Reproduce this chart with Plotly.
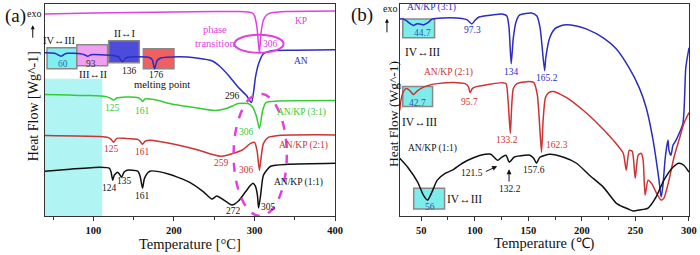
import plotly.graph_objects as go

# ---------------- Panel (a): DSC curves (temperature °C, heat flow in arbitrary offset units)
a_kp_T = [40, 100, 150, 200, 250, 280, 292, 297, 300, 303, 306, 308, 311, 315, 320, 340, 400]
a_kp_hf = [204, 205, 205.5, 206, 206.5, 206.5, 206, 205, 202, 190, 165, 185, 198, 203, 205, 206.5, 207]

a_an_T = [40, 52, 56, 60, 63, 67, 84, 89, 93, 97, 120, 131, 136, 141, 157, 170, 173, 176, 179, 183,
          206, 230, 247, 256, 268, 280, 290, 296, 299, 301, 305, 311, 321, 350, 400]
a_an_hf = [165, 164.5, 163, 161.5, 163, 164.5, 164, 163, 161.5, 163, 162.5, 161, 156, 160, 161, 160, 158, 149, 157, 159.5,
           161, 159.5, 157, 152, 142, 130, 122, 115, 127, 140, 154, 164, 167, 167.5, 168]

a_31_T = [40, 70, 95, 115, 121, 125, 129, 140, 155, 159, 161, 164, 175, 200, 225, 250, 265, 280, 292, 297,
          302, 306, 310, 314, 328, 400]
a_31_hf = [123, 122.5, 122, 121, 119.5, 117.5, 119.5, 120.5, 120, 118, 116, 118.5, 118, 113, 110, 107, 109, 114, 114, 111,
           102, 89, 107, 115, 116.5, 117]

a_21_T = [40, 108, 118, 122, 125, 129, 139, 155, 158, 161, 164, 170, 206, 231, 247, 259, 274, 286, 295, 300,
          303, 306, 308, 311, 317, 330, 400]
a_21_hf = [82, 81, 80, 78, 75, 79, 79, 78, 76, 73, 76, 77, 72, 67, 63, 61, 64, 68, 74, 75,
           67, 47, 59, 74, 80, 82, 82.5]

a_11_T = [40, 71, 108, 120, 122, 124, 126, 130, 132.5, 135, 138, 142, 155, 158, 161, 163.5, 170, 194, 219, 237,
          247, 253, 262, 272, 280, 293, 298, 301, 303.5, 305, 307.5, 311, 320, 342, 400]
a_11_hf = [46, 48, 50, 49, 45, 37, 42, 45, 43, 40, 45, 47, 46, 41, 29, 39, 46, 43, 35, 25,
           18, 21, 17, 12, 16, 30, 34, 31, 22, 9, 22, 42, 51, 53, 54]

# ---------------- Panel (b)
b_31_T = [30, 33, 36.5, 40, 43, 45.5, 48.5, 52, 56, 60.5, 70, 88, 93, 97.3, 100.5, 104, 116, 125.5, 130, 132,
          134, 136, 138.5, 142, 153, 158, 161, 165.2, 166.3, 170, 174.7, 183, 195, 204, 220, 232, 244, 253.5, 260, 266.5,
          272, 274, 275.7, 277.6, 279.4, 280.4, 281.3, 283.2, 285, 287.8, 294.3, 297, 300]
b_31_hf = [199, 199, 197, 194, 192.5, 194, 194, 193, 195, 199, 200, 199.5, 198, 194, 198, 201, 203, 204, 202, 190,
           154, 180, 196, 203, 205, 202, 190, 147, 160, 180, 189, 193, 192, 189, 180, 169, 150, 130, 110, 77,
           37, 20, 32, 57, 72, 77, 67, 62, 72, 77, 94, 150, 170]

b_21_T = [30, 31, 33, 35.6, 38.3, 41, 42.7, 46.7, 49.5, 56, 65, 84, 91, 94, 95.7, 97.7, 101.4, 111.6, 125.5, 129.2,
          131.1, 133.2, 134.5, 136, 139.4, 148.7, 155.2, 158.5, 162.3, 163.8, 166, 169.1, 173.7, 185.8, 201.5, 216.4, 229.4, 238.6, 241.4, 244.2,
          247, 249.8, 252.5, 255.3, 257.2, 259, 261.8, 265.5, 269.2, 273.9, 276.6, 281.3, 286, 290.6, 295.2, 300]
b_21_hf = [107, 117, 125, 129, 128, 125, 123, 127, 129, 132, 134, 135, 134, 131, 125, 129, 131, 133, 135, 134,
           117, 84, 112, 129, 134, 136, 135, 122, 65, 97, 120, 125, 126, 120, 107, 92, 77, 64, 47, 67,
           66, 39, 62, 64, 57, 22, 37, 33, 25, 17, 19, 37, 60, 77, 94, 105]

b_11_T = [30, 37.4, 46.7, 52, 56, 60, 65, 72.7, 79, 88.4, 97.7, 109.7, 115, 121.5, 125, 129.2, 132.2, 136.6, 146.8, 151.5,
          155, 157.6, 160.7, 170, 183, 195, 207, 220, 232, 238.6, 243.3, 248, 253.5, 261.8, 269.2, 276.6, 285, 290.6, 295.2, 300]
b_11_hf = [59, 50, 35, 22, 17, 25, 37, 44, 47, 54, 59, 63, 63, 57, 60, 62, 55, 60, 62, 62,
           59, 54, 60, 63, 60, 54, 42, 30, 14, 10, 8, 6, 7, 9, 20, 37, 50, 54, 52, 45]

a_ticks = [100, 200, 300, 400]
a_minor = [50, 150, 250, 350]
b_ticks = [50, 100, 150, 200, 250, 300]
b_minor = [75, 125, 175, 225, 275]

SERIF = "Liberation Serif, Times New Roman, serif"
MAG = "#e040e0"
BLUE = "#2c2cc0"
GREEN = "#33cc33"
RED = "#cc3333"
BLACK = "#111111"

fig = go.Figure()

def line(x, y, color, xa, ya):
    fig.add_trace(go.Scatter(x=x, y=y, mode="lines", line=dict(color=color, width=1.5, shape="spline", smoothing=0.6),
                             xaxis=xa, yaxis=ya, showlegend=False, hoverinfo="skip"))

line(a_kp_T, a_kp_hf, MAG, "x", "y")
line(a_an_T, a_an_hf, BLUE, "x", "y")
line(a_31_T, a_31_hf, GREEN, "x", "y")
line(a_21_T, a_21_hf, RED, "x", "y")
line(a_11_T, a_11_hf, BLACK, "x", "y")

line(b_31_T, b_31_hf, BLUE, "x2", "y2")
line(b_21_T, b_21_hf, RED, "x2", "y2")
line(b_11_T, b_11_hf, BLACK, "x2", "y2")

shapes = []
def rect(x0, x1, y0, y1, fill, xr="x", yr="y", border="#888888"):
    shapes.append(dict(type="rect", xref=xr, yref=yr, x0=x0, x1=x1, y0=y0, y1=y1,
                       fillcolor=fill, line=dict(color=border, width=1.5), layer="below"))

# panel (a) shaded region and boxes
shapes.append(dict(type="rect", xref="x", yref="y", x0=40, x1=111, y0=1, y1=139,
                   fillcolor="#b0f4f4", line=dict(width=0), layer="below"))
rect(42.5, 79.5, 149, 170, "#7ff0f0")
rect(79.5, 117.7, 152, 173, "#f0a0f0")
rect(119, 157, 155, 177, "#4b4bdc")
rect(162, 200, 149, 169, "#f06060")
shapes.append(dict(type="circle", xref="x", yref="y", x0=275, x1=336, y0=165, y1=183,
                   line=dict(color=MAG, width=2)))
shapes.append(dict(type="circle", xref="x", yref="y", x0=274, x1=340, y0=1, y1=124,
                   line=dict(color=MAG, width=2.5, dash="dash")))
# panel (b) boxes
rect(32.8, 62.5, 180, 199, "#7fecec", "x2", "y2")
rect(32.8, 60.6, 111, 131, "#7fecec", "x2", "y2")
rect(43, 71.8, 8, 29, "#7fecec", "x2", "y2")

ann = []
def lab(text, x, y, color=BLACK, size=10, xr="x", yr="y"):
    ann.append(dict(text=text, x=x, y=y, xref=xr, yref=yr, showarrow=False,
                    xanchor="center", yanchor="middle",
                    font=dict(family=SERIF, size=size, color=color)))

# panel (a) labels
lab("KP", 358, 197, MAG, 9.5)
lab("phase<br>transition", 251, 181, MAG, 10.5)
lab("306", 320, 174, MAG, 9.5)
lab("AN", 358, 157, BLUE, 9.5)
lab("296", 272, 122, BLACK, 9.5)
lab("IV↔III", 58.5, 177, BLACK, 10.5)
lab("60", 62.2, 154, "#2e6e9e", 9.5)
lab("93", 96.7, 154, "#333333", 9.5)
lab("III↔II", 99.2, 143, BLACK, 10.5)
lab("II↔I", 138.6, 184, BLACK, 10.5)
lab("136", 144.8, 147, BLACK, 9.5)
lab("176", 178, 143, BLACK, 9.5)
lab("melting point", 185.5, 133, BLACK, 10.5)
lab("125", 124, 110, GREEN, 9.5)
lab("161", 161, 107, GREEN, 9.5)
lab("AN/KP (3:1)", 358, 105, GREEN, 9.5)
lab("306", 290, 85, GREEN, 9.5)
lab("125", 122.6, 68, RED, 9.5)
lab("161", 161, 65, RED, 9.5)
lab("259", 259.5, 54, RED, 9.5)
lab("306", 290, 47, RED, 9.5)
lab("AN/KP (2:1)", 360.5, 72, RED, 9.5)
lab("124", 120, 29, BLACK, 9.5)
lab("135", 138.6, 36, BLACK, 9.5)
lab("161", 161, 21, BLACK, 9.5)
lab("272", 274, 6, BLACK, 9.5)
lab("305", 317, 10, BLACK, 9.5)
lab("AN/KP (1:1)", 354, 35, BLACK, 9.5)

# panel (b) labels
lab("AN/KP (3:1)", 59.7, 210, BLUE, 9.5, "x2", "y2")
lab("44.7", 51.3, 185, "#3355aa", 9.5, "x2", "y2")
lab("IV↔III", 51.3, 166, BLACK, 11.5, "x2", "y2")
lab("97.3", 97.7, 188, BLUE, 9.5, "x2", "y2")
lab("134", 133.9, 146, BLUE, 9.5, "x2", "y2")
lab("165.2", 167.3, 140, BLUE, 9.5, "x2", "y2")
lab("AN/KP (2:1)", 75.5, 145, RED, 9.5, "x2", "y2")
lab("42.7", 46.7, 115, "#3355aa", 9.5, "x2", "y2")
lab("IV↔III", 48.6, 95, BLACK, 11.5, "x2", "y2")
lab("95.7", 95, 116, RED, 9.5, "x2", "y2")
lab("133.2", 130.2, 77, RED, 9.5, "x2", "y2")
lab("162.3", 176.6, 72, RED, 9.5, "x2", "y2")
lab("AN/KP (1:1)", 60.6, 69, BLACK, 9.5, "x2", "y2")
lab("121.5", 97.7, 44, BLACK, 9.5, "x2", "y2")
lab("132.2", 133, 28, BLACK, 9.5, "x2", "y2")
lab("157.6", 155.3, 47, BLACK, 9.5, "x2", "y2")
lab("56", 57.8, 10, "#3355aa", 9.5, "x2", "y2")
lab("IV↔III", 90.3, 18, BLACK, 11.5, "x2", "y2")

def arrow(x, y, ax, ay, xr="x2", yr="y2"):
    ann.append(dict(text="", x=x, y=y, ax=ax, ay=ay, xref=xr, yref=yr, axref=xr, ayref=yr,
                    showarrow=True, arrowhead=2, arrowsize=1, arrowwidth=1, arrowcolor=BLACK))

arrow(120.9, 51, 108.9, 45)
arrow(132, 48, 132, 34)

# outside texts (paper coordinates)
def pap(text, x, y, size, angle=0):
    ann.append(dict(text=text, x=x, y=y, xref="paper", yref="paper", showarrow=False, textangle=angle,
                    xanchor="center", yanchor="middle",
                    font=dict(family=SERIF, size=size, color=BLACK)))

pap("(a)", -0.0463, 0.944, 19)
pap("exo", -0.017, 0.953, 10)
pap("Heat Flow [Wg^-1]", -0.018, 0.52, 14, -90)
pap("Temperature [°C]", 0.2253, -0.131, 14.5)
pap("(b)", 0.4923, 0.948, 19)
pap("exo", 0.536, 0.981, 10)
pap("Heat Flow (Wg^-1)", 0.540, 0.48, 13.5, -90)
pap("Temperature (℃)", 0.7754, -0.131, 14.5)
ann.append(dict(text="", x=-0.019, y=0.90, xref="paper", yref="paper", ax=0, ay=14,
                showarrow=True, arrowhead=2, arrowsize=0.8, arrowwidth=1, arrowcolor=BLACK))
ann.append(dict(text="", x=0.531, y=0.93, xref="paper", yref="paper", ax=0, ay=15,
                showarrow=True, arrowhead=2, arrowsize=0.8, arrowwidth=1, arrowcolor=BLACK))

xcommon = dict(showline=True, mirror=True, linecolor="#333333", linewidth=1, showgrid=False, zeroline=False,
               ticks="outside", ticklen=4, tickcolor="#333333",
               tickfont=dict(family=SERIF, size=10.5, color=BLACK, weight="bold"))
ycommon = dict(showline=True, mirror=True, linecolor="#333333", linewidth=1, showgrid=False, zeroline=False,
               showticklabels=False, ticks="", range=[1, 214], domain=[0, 1])

fig.update_layout(
    width=700, height=255, autosize=False,
    margin=dict(l=45, r=7, t=3, b=39),
    paper_bgcolor="white", plot_bgcolor="white",
    font=dict(family=SERIF),
    xaxis=dict(domain=[0, 0.4506], range=[40, 400], tickmode="array", tickvals=a_ticks, anchor="y",
               minor=dict(tickmode="array", tickvals=a_minor, ticks="outside", ticklen=3, tickcolor="#333333"),
               **xcommon),
    yaxis=dict(anchor="x", **ycommon),
    xaxis2=dict(domain=[0.5509, 1.0], range=[30, 300], tickmode="array", tickvals=b_ticks, anchor="y2",
                minor=dict(tickmode="array", tickvals=b_minor, ticks="outside", ticklen=3, tickcolor="#333333"),
                **xcommon),
    yaxis2=dict(anchor="x2", **ycommon),
    shapes=shapes,
    annotations=ann,
)

fig.write_html("out.html", config={"displayModeBar": False},
               post_script="document.body.style.margin='0';document.body.style.overflow='hidden';")
